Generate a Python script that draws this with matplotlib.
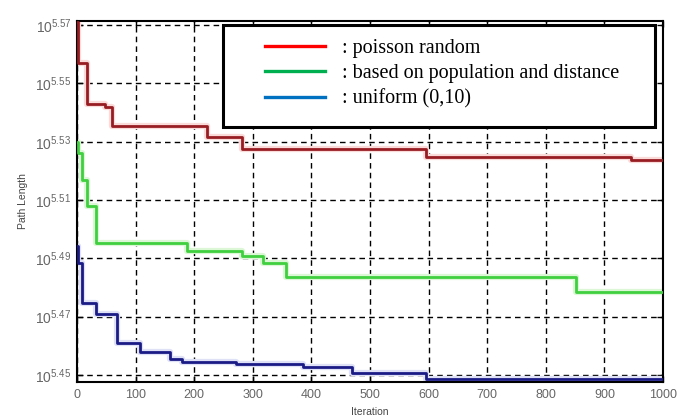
import matplotlib

matplotlib.use("Agg")
import matplotlib.pyplot as plt
import numpy as np
from matplotlib.lines import Line2D
from matplotlib.patches import Rectangle
from matplotlib.ticker import FixedLocator, FuncFormatter, NullLocator

# step curves: iteration where a new best value starts, and log10(path length)
red_x = [0, 1, 17, 48, 60, 221, 281, 596, 946, 1000]
red_exp = [5.571, 5.557, 5.543, 5.542, 5.5355, 5.5316, 5.5275, 5.5246, 5.5236, 5.5236]

green_x = [0, 2, 8, 17, 32, 187, 281, 317, 357, 851, 1000]
green_exp = [5.530, 5.5262, 5.517, 5.5078, 5.4954, 5.4925, 5.4908, 5.4885, 5.4837, 5.4786, 5.4786]

blue_x = [0, 1, 8, 32, 68, 107, 159, 179, 272, 386, 469, 596, 1000]
blue_exp = [5.4942, 5.4885, 5.4746, 5.4708, 5.4609, 5.4580, 5.4555, 5.4545, 5.4538, 5.4528,
            5.4506, 5.4487, 5.4487]

ytick_exp = [5.45, 5.47, 5.49, 5.51, 5.53, 5.55, 5.57]
xticks = [0, 100, 200, 300, 400, 500, 600, 700, 800, 900, 1000]
legend_labels = [": poisson random", ": based on population and distance", ": uniform (0,10)"]

plt.rcParams["mathtext.fontset"] = "custom"
plt.rcParams["mathtext.rm"] = "Liberation Sans"
plt.rcParams["font.family"] = "Liberation Sans"

fig = plt.figure(figsize=(6.92, 4.17), dpi=100)
ax = fig.add_axes([0.1113, 0.0839, 0.8468, 0.8665])

curves = [
    (red_x, red_exp, "#971d22", "#fbdada"),
    (green_x, green_exp, "#3fcf3f", "#dcf7d6"),
    (blue_x, blue_exp, "#1b1b86", "#dfe2f7"),
]
for xs, es, col, halo in curves:
    ys = 10 ** np.array(es)
    ax.step(xs, ys, where="post", color=halo, lw=4.5, zorder=2)
    ax.step(xs, ys, where="post", color=col, lw=2.0, zorder=3)

ax.set_yscale("log")
ax.set_xlim(0, 1000)
ax.set_ylim(10 ** 5.4476, 10 ** 5.5715)
ax.set_xticks(xticks)
ax.yaxis.set_major_locator(FixedLocator([10 ** e for e in ytick_exp]))
ax.yaxis.set_minor_locator(NullLocator())
ax.yaxis.set_major_formatter(FuncFormatter(lambda v, p: r"$10^{%.2f}$" % np.log10(v)))

ax.grid(True, color="black", linestyle=(0, (4, 3)), linewidth=1.0)
ax.tick_params(direction="in", top=True, right=True, length=4, width=1,
               labelcolor="#666666")
ax.tick_params(axis="x", labelsize=9, pad=5)
ax.tick_params(axis="y", labelsize=10, pad=4)
for s in ax.spines.values():
    s.set_linewidth(1.5)

ax.set_xlabel("Iteration", fontsize=7.5, color="#444444", labelpad=4)
ax.set_ylabel("Path Length", fontsize=7.5, color="#444444", labelpad=5)

# legend box (drawn in figure pixels)
W, H = 692, 417
fig.patches.append(Rectangle((223 / W, 1 - 127 / H), (655 - 223) / W, (127 - 25) / H,
                             transform=fig.transFigure, facecolor="white",
                             edgecolor="black", linewidth=2.2, zorder=5))
handles = [Line2D([], [], color=c, lw=2.4) for c in ["#ff0000", "#00b050", "#0070c0"]]
leg = fig.legend(handles, legend_labels, loc="upper left",
                 bbox_to_anchor=(265 / W, 1 - 39 / H), frameon=False,
                 prop={"family": "Liberation Serif", "size": 14.5},
                 handlelength=3.0, handletextpad=0.82, labelspacing=0.3,
                 borderpad=0.0, borderaxespad=0.0)
leg.set_zorder(6)

fig.savefig("out.png", dpi=100)
